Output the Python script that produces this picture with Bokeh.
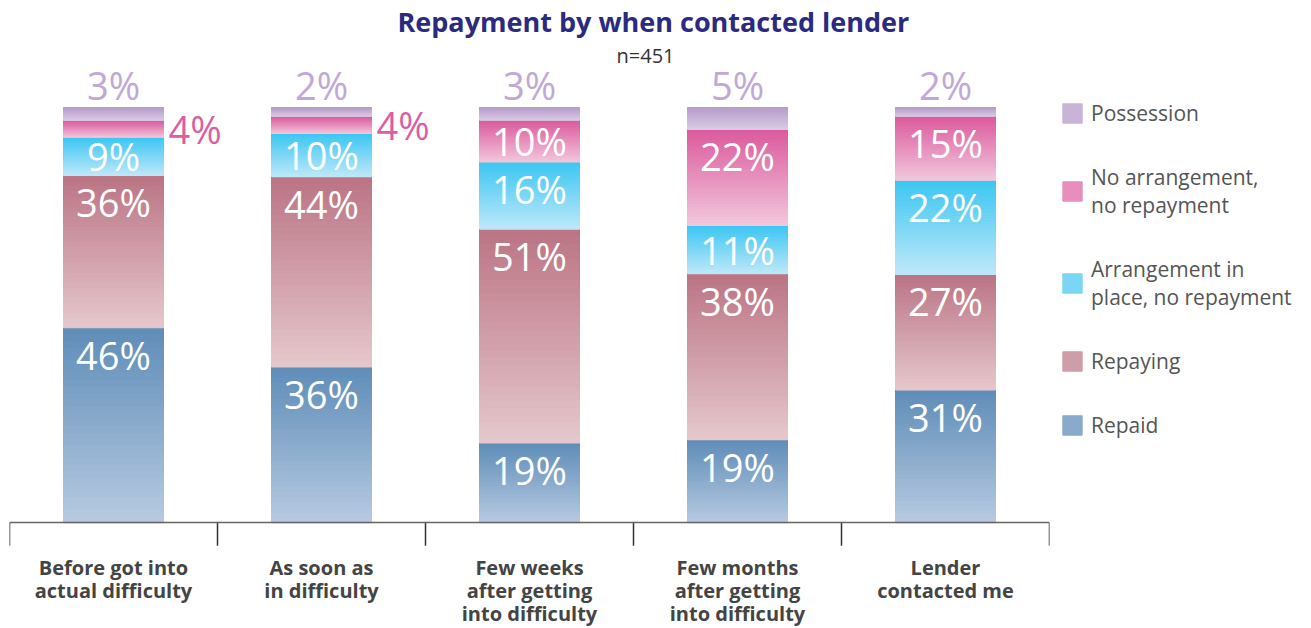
from bokeh.plotting import figure
from bokeh.models import (FactorRange, Range1d, ColumnDataSource, Span, Title,
                          Legend, LegendItem)
from bokeh.embed import file_html
from bokeh.resources import INLINE
from bokeh.core.properties import value

# ---------------- data ----------------
categories = ["Before got into\nactual difficulty", "As soon as\nin difficulty",
              "Few weeks\nafter getting\ninto difficulty",
              "Few months\nafter getting\ninto difficulty", "Lender\ncontacted me"]
repaid = [46, 36, 19, 19, 31]
repaying = [36, 44, 51, 38, 27]
arrangement = [9, 10, 16, 11, 22]
no_arrangement = [4, 4, 10, 22, 15]
possession = [3, 2, 3, 5, 2]

series_names = ["Repaid", "Repaying", "Arrangement in\nplace, no repayment",
                "No arrangement,\nno repayment", "Possession"]
series_values = [repaid, repaying, arrangement, no_arrangement, possession]
# gradient colours (top, bottom)
series_colors = [("#5e8db8", "#b8cae1"), ("#bb7484", "#e5c8cd"),
                 ("#3cc6f2", "#bfe8f9"), ("#db5a9d", "#f2c8dd"),
                 ("#b79dca", "#d9cde5")]

FONT = "Open Sans"
PX = 4.15           # pixels per percent
Y_TOP, Y_BOT = 109.4, -6.0

def hex2rgb(h):
    h = h.lstrip("#")
    return tuple(int(h[i:i + 2], 16) for i in (0, 2, 4))

def mix(c1, c2, t):
    a, b = hex2rgb(c1), hex2rgb(c2)
    return "#%02x%02x%02x" % tuple(round(a[i] + (b[i] - a[i]) * t) for i in range(3))

p = figure(x_range=FactorRange(*categories), y_range=Range1d(Y_BOT, Y_TOP),
           frame_width=1040, frame_height=round((Y_TOP - Y_BOT) * PX),
           output_backend="svg", toolbar_location=None,
           min_border_left=9, min_border_right=10, min_border_bottom=74,
           title="Repayment by when contacted lender")
p.title.align = "left"
p.title.offset = 388
p.title.text_font = FONT
p.title.text_font_size = "27px"
p.title.text_font_style = "bold"
p.title.text_color = "#2b2a80"
p.title.text_line_height = 0.9
p.title.standoff = 0
sub_title = Title(text="n=451", align="left", offset=607,
                  text_font=FONT, text_font_size="20px", text_font_style="normal",
                  text_color="#333333", standoff=0, text_line_height=0.9)
p.add_layout(sub_title, "above")

p.outline_line_color = None
p.grid.visible = False
p.yaxis.visible = False
p.xaxis.axis_line_color = None
p.xaxis.major_tick_line_color = None
p.xaxis.minor_tick_line_color = None
p.xaxis.major_label_standoff = 0
p.xaxis.major_label_text_font = FONT
p.xaxis.major_label_text_font_size = "20px"
p.xaxis.major_label_text_font_style = "bold"
p.xaxis.major_label_text_color = "#444444"
p.xaxis.major_label_text_line_height = 0.87

totals = [sum(s[i] for s in series_values) for i in range(len(categories))]

N = 30
renderers = []
bottoms = [0.0] * len(categories)
seg_bounds = []
for s_idx, vals in enumerate(series_values):
    top_c, bot_c = series_colors[s_idx]
    xs, b, t, cols = [], [], [], []
    bounds = []
    for i, cat in enumerate(categories):
        share = vals[i] / totals[i] * 100
        y0 = bottoms[i]
        y1 = y0 + share
        bounds.append((y0, y1))
        for k in range(N):
            xs.append(cat)
            b.append(y0 + share * k / N)
            t.append(y0 + share * (k + 1) / N)
            cols.append(mix(bot_c, top_c, (k + 0.5) / N))
        bottoms[i] = y1
    seg_bounds.append(bounds)
    src = ColumnDataSource(dict(x=xs, bottom=b, top=t, color=cols))
    r = p.vbar(x="x", bottom="bottom", top="top", width=0.48, source=src,
               fill_color="color", line_color="color", line_width=1.2)
    renderers.append(r)

# baseline and category separators
p.add_layout(Span(location=0, dimension="width", line_color="#666666", line_width=1.5))
sep_x = [(c, -0.5) for c in categories] + [(categories[-1], 0.5)]
p.segment(x0=sep_x, x1=sep_x, y0=[0] * len(sep_x), y1=[-5.6] * len(sep_x),
          line_color="#333333", line_width=1.5)

# labels
in_x, in_y, in_t = [], [], []
out_x, out_y, out_t = [], [], []
top_x, top_y, top_t = [], [], []
for s_idx, vals in enumerate(series_values):
    for i, cat in enumerate(categories):
        y0, y1 = seg_bounds[s_idx][i]
        h = y1 - y0
        lab = f"{vals[i]}%"
        if s_idx == 4:
            top_x.append(cat); top_y.append(y1); top_t.append(lab)
        elif h < 7:
            out_x.append((cat, 0.24)); out_y.append((y0 + y1) / 2); out_t.append(lab)
        else:
            in_x.append(cat); in_y.append(y1 - min(h / 2, 6.5)); in_t.append(lab)

p.text(x=in_x, y=in_y, text=in_t, text_align="center", text_baseline="middle",
       text_color="white", text_font=value(FONT), text_font_size="38px")
p.text(x=out_x, y=out_y, text=out_t, text_align="left", text_baseline="middle",
       x_offset=5, text_color="#d95fa2", text_font=value(FONT), text_font_size="38px")
p.text(x=top_x, y=top_y, text=top_t, text_align="center", text_baseline="bottom",
       y_offset=3, text_color="#c2a8d6", text_font=value(FONT), text_font_size="38px")

# legend (top to bottom: Possession ... Repaid)
items = [LegendItem(label=series_names[s], renderers=[renderers[s]], index=N // 2)
         for s in reversed(range(len(series_names)))]
legend = Legend(items=items, location=(11, 108), orientation="vertical",
                glyph_width=24, glyph_height=24, label_text_font=FONT,
                label_text_font_size="21px", label_text_color="#555555",
                label_text_line_height=1.1, spacing=36, padding=0, margin=0,
                border_line_color=None, background_fill_alpha=0, label_standoff=7)
p.add_layout(legend, "right")

open("out.html", "w").write(file_html(p, INLINE))
